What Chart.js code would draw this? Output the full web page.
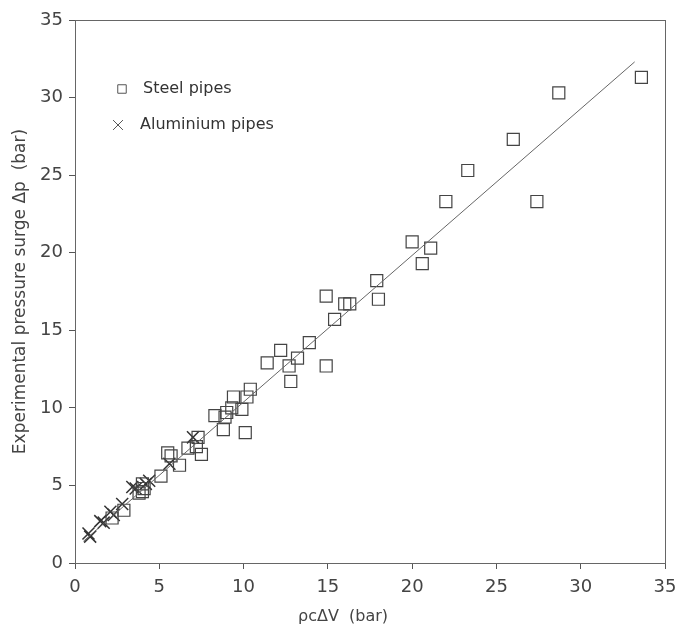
<!DOCTYPE html>
<html>
<head>
  <meta charset="UTF-8">
  <style>
    body { margin: 0; background: #fff; }
    .wrap { width: 693px; height: 631px; position: relative; }
  </style>
</head>
<body>
  <div class="wrap"><canvas id="c" width="693" height="631"></canvas></div>
  <script src="https://cdn.jsdelivr.net/npm/chart.js@4"></script>
  <script>
    // steel pipes: rho*c*dV (bar) / measured dp (bar)
    const steelX = [33.6, 28.7, 26.0, 27.4, 23.3, 22.0, 20.0, 20.6, 21.1, 17.9, 18.0, 14.9, 16.0, 16.3, 15.4,
      13.9, 13.2, 12.2, 11.4, 12.7, 12.8, 14.9, 10.4, 10.2, 9.4, 9.3, 9.9, 9.0, 8.9, 8.3, 8.8, 10.1,
      7.3, 7.2, 6.7, 7.5, 5.5, 5.7, 6.2, 5.1, 4.0, 4.1, 3.8, 4.0, 2.9, 2.2];
    const steelY = [31.3, 30.3, 27.3, 23.3, 25.3, 23.3, 20.7, 19.3, 20.3, 18.2, 17.0, 17.2, 16.7, 16.7, 15.7,
      14.2, 13.2, 13.7, 12.9, 12.7, 11.7, 12.7, 11.2, 10.7, 10.7, 10.0, 9.9, 9.7, 9.4, 9.5, 8.6, 8.4,
      8.1, 7.5, 7.4, 7.0, 7.1, 6.9, 6.3, 5.6, 5.1, 4.8, 4.5, 4.6, 3.4, 2.9];

    // aluminium pipes
    const aluX = [0.8, 0.9, 1.5, 1.7, 2.1, 2.3, 2.8, 3.4, 3.6, 4.2, 4.4, 5.6, 7.0];
    const aluY = [1.9, 1.7, 2.7, 2.6, 3.3, 3.1, 3.8, 4.9, 4.8, 5.1, 5.3, 6.4, 8.1];

    // fitted line end points
    const fitX = [0.5, 33.2];
    const fitY = [1.4, 32.3];

    const xTicks = [0, 5, 10, 15, 20, 25, 30, 35];
    const yTicks = [0, 5, 10, 15, 20, 25, 30, 35];

    const ink = '#444';
    const pts = (xs, ys) => xs.map((x, i) => ({ x: x, y: ys[i] }));

    // frame round the plot, legend inside it, x title (sits left of centre in the original)
    const framePlugin = {
      id: 'frame',
      afterDraw(chart) {
        const { ctx, chartArea: a } = chart;
        ctx.save();
        ctx.strokeStyle = '#666';
        ctx.lineWidth = 1;
        ctx.strokeRect(a.left + 0.5, a.top + 0.5, a.right - a.left, a.bottom - a.top);

        ctx.strokeStyle = '#555';
        ctx.fillStyle = 'rgba(0,0,0,0)';
        Chart.helpers.drawPoint(ctx, { pointStyle: 'rect', radius: 6, rotation: 0, borderWidth: 1 }, 122, 89);
        Chart.helpers.drawPoint(ctx, { pointStyle: 'crossRot', radius: 7, rotation: 0, borderWidth: 1 }, 118, 125);

        ctx.fillStyle = '#333';
        ctx.font = '16px "DejaVu Sans"';
        ctx.textBaseline = 'middle';
        ctx.fillText('Steel pipes', 143, 89);
        ctx.fillText('Aluminium pipes', 140, 125);

        ctx.fillStyle = ink;
        ctx.fillText('ρcΔV  (bar)', 298, 617);
        ctx.restore();
      }
    };

    new Chart(document.getElementById('c'), {
      type: 'scatter',
      data: {
        datasets: [
          {
            label: 'Fit',
            type: 'line',
            data: pts(fitX, fitY),
            borderColor: '#666',
            borderWidth: 1,
            pointRadius: 0,
            fill: false
          },
          {
            label: 'Steel pipes',
            data: pts(steelX, steelY),
            pointStyle: 'rect',
            pointRadius: 8.5,
            pointHoverRadius: 8.5,
            borderColor: '#444',
            backgroundColor: 'rgba(0,0,0,0)',
            pointBorderWidth: 1.2
          },
          {
            label: 'Aluminium pipes',
            data: pts(aluX, aluY),
            pointStyle: 'crossRot',
            pointRadius: 8.5,
            pointHoverRadius: 8.5,
            borderColor: '#333',
            pointBorderWidth: 1.5
          }
        ]
      },
      options: {
        responsive: false,
        animation: false,
        layout: { padding: { top: 20, right: 28, left: 0, bottom: 0 } },
        plugins: {
          legend: { display: false },
          tooltip: { enabled: false }
        },
        scales: {
          x: {
            type: 'linear',
            min: 0,
            max: 35,
            afterFit: s => { s.height = 68; },
            afterBuildTicks: s => { s.ticks = xTicks.map(v => ({ value: v })); },
            grid: { drawOnChartArea: false, drawTicks: true, tickLength: 6, color: '#555' },
            border: { display: false },
            ticks: { color: ink, font: { family: 'DejaVu Sans', size: 18 }, padding: 8 }
          },
          y: {
            type: 'linear',
            min: 0,
            max: 35,
            afterFit: s => { s.width = 75; },
            afterBuildTicks: s => { s.ticks = yTicks.map(v => ({ value: v })); },
            grid: { drawOnChartArea: false, drawTicks: true, tickLength: 6, color: '#555' },
            border: { display: false },
            ticks: { color: ink, font: { family: 'DejaVu Sans', size: 18 }, padding: 6 },
            title: {
              display: true,
              text: 'Experimental pressure surge Δp  (bar)',
              color: ink,
              font: { family: 'DejaVu Sans', size: 17 },
              padding: { top: 10, bottom: 4 }
            }
          }
        }
      },
      plugins: [framePlugin]
    });
  </script>
</body>
</html>
